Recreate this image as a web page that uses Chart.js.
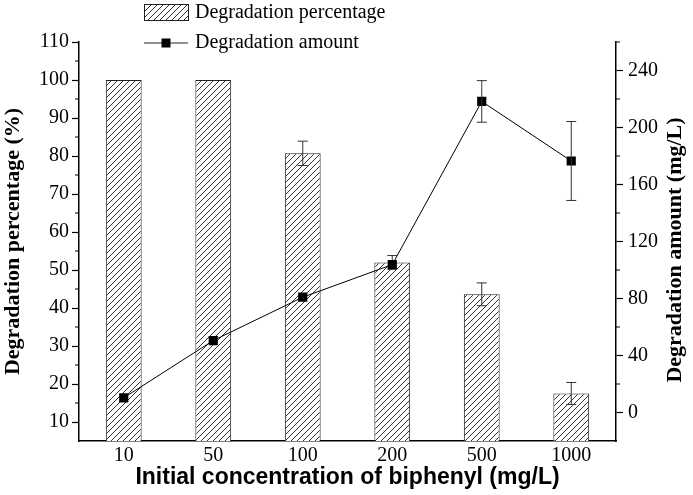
<!DOCTYPE html>
<html>
<head>
<meta charset="utf-8">
<script src="https://cdn.jsdelivr.net/npm/chart.js@4.4.1/dist/chart.umd.min.js"></script>
<style>
    html, body { margin: 0; padding: 0; background: #fff; }
    #wrap { width: 693px; height: 495px; }
</style>
</head>
<body>
<div id="wrap"><canvas id="chart"></canvas></div>
<script>
// data
const concentrations = ['10', '50', '100', '200', '500', '1000'];
const degradationPercentage = [100, 100, 80.7, 52.0, 43.6, 17.5];
const percentageError = [0, 0, 3.2, 1.8, 3.0, 2.9];
const degradationAmount = [10.3, 50.5, 80.9, 103.8, 218.3, 176.5];
const amountError = [0, 0, 0, 0, 14.6, 27.7];

// tick labels
const percentTicks = [10, 20, 30, 40, 50, 60, 70, 80, 90, 100, 110];
const percentMinor = [15, 25, 35, 45, 55, 65, 75, 85, 95, 105];
const amountTicks = [0, 40, 80, 120, 160, 200, 240];
const amountMinor = [20, 60, 100, 140, 180, 220, 260];

const serif = '"Liberation Serif", "Times New Roman", serif';
const sans = '"Liberation Sans", Arial, sans-serif';

// hatch pattern for the bars
function makeHatch() {
    const c = document.createElement('canvas');
    c.width = 6;
    c.height = 6;
    const g = c.getContext('2d');
    g.fillStyle = '#fff';
    g.fillRect(0, 0, 6, 6);
    g.strokeStyle = '#333';
    g.lineWidth = 1;
    g.beginPath();
    g.moveTo(0, 6); g.lineTo(6, 0);
    g.moveTo(-1, 1); g.lineTo(1, -1);
    g.moveTo(5, 7); g.lineTo(7, 5);
    g.stroke();
    return g.createPattern(c, 'repeat');
}
const hatch = makeHatch();

// error bars, drawn right after each dataset
const errorBars = {
    id: 'errorBars',
    afterDatasetDraw(chart, args) {
        const ds = chart.data.datasets[args.index];
        if (!ds.errors) return;
        const ctx = chart.ctx;
        const scale = chart.scales[ds.yAxisID];
        ctx.save();
        ctx.strokeStyle = '#333';
        ctx.lineWidth = 1;
        args.meta.data.forEach((el, i) => {
            const err = ds.errors[i];
            if (!err) return;
            const v = ds.data[i];
            const top = scale.getPixelForValue(v + err);
            const bot = scale.getPixelForValue(v - err);
            ctx.beginPath();
            ctx.moveTo(el.x, top); ctx.lineTo(el.x, bot);
            ctx.moveTo(el.x - 5, top); ctx.lineTo(el.x + 5, top);
            ctx.moveTo(el.x - 5, bot); ctx.lineTo(el.x + 5, bot);
            ctx.stroke();
        });
        ctx.restore();
    }
};

// short minor ticks on both y axes, plus the right axis title (reads bottom to top)
const axisExtras = {
    id: 'axisExtras',
    afterDraw(chart) {
        const ctx = chart.ctx;
        const area = chart.chartArea;
        ctx.save();
        ctx.strokeStyle = '#000';
        ctx.lineWidth = 1.2;
        ctx.beginPath();
        percentMinor.forEach(v => {
            const y = chart.scales.y.getPixelForValue(v);
            ctx.moveTo(area.left - 4, y); ctx.lineTo(area.left, y);
        });
        amountMinor.forEach(v => {
            const y = chart.scales.y1.getPixelForValue(v);
            ctx.moveTo(area.right, y); ctx.lineTo(area.right + 4, y);
        });
        ctx.stroke();

        ctx.translate(675, 250);
        ctx.rotate(-Math.PI / 2);
        ctx.font = 'bold 22px ' + serif;
        ctx.fillStyle = '#000';
        ctx.textAlign = 'center';
        ctx.textBaseline = 'middle';
        ctx.fillText('Degradation amount (mg/L)', 0, 0);
        ctx.restore();
    }
};

// two-row legend above the plot
const stackedLegend = {
    id: 'stackedLegend',
    afterDraw(chart) {
        const ctx = chart.ctx;
        ctx.save();
        ctx.font = '20px ' + serif;
        ctx.textBaseline = 'middle';

        ctx.fillStyle = hatch;
        ctx.fillRect(144, 4, 44, 16);
        ctx.strokeStyle = '#222';
        ctx.lineWidth = 1;
        ctx.strokeRect(144.5, 4.5, 44, 16);
        ctx.fillStyle = '#000';
        ctx.fillText(chart.data.datasets[0].label, 195, 13);

        ctx.beginPath();
        ctx.moveTo(144, 43); ctx.lineTo(188, 43);
        ctx.stroke();
        ctx.fillRect(161.5, 38.5, 9, 9);
        ctx.fillText(chart.data.datasets[1].label, 195, 43);
        ctx.restore();
    }
};

const ctx = document.getElementById('chart').getContext('2d');
const myChart = new Chart(ctx, {
    data: {
        labels: concentrations,
        datasets: [
            {
                type: 'bar',
                label: 'Degradation percentage',
                data: degradationPercentage,
                errors: percentageError,
                yAxisID: 'y',
                backgroundColor: hatch,
                borderColor: '#222',
                borderWidth: 1,
                barPercentage: 0.4,
                categoryPercentage: 1,
                order: 2
            },
            {
                type: 'line',
                label: 'Degradation amount',
                data: degradationAmount,
                errors: amountError,
                yAxisID: 'y1',
                borderColor: '#000',
                borderWidth: 1,
                pointStyle: 'rect',
                pointRadius: 6.5,
                pointBackgroundColor: '#000',
                pointBorderWidth: 0,
                tension: 0,
                order: 1
            }
        ]
    },
    options: {
        responsive: true,
        maintainAspectRatio: false,
        animation: false,
        layout: { padding: { top: 42, left: 0, right: 0, bottom: 0 } },
        plugins: {
            legend: { display: false },
            tooltip: { enabled: false }
        },
        scales: {
            x: {
                offset: true,
                afterFit: s => { s.height = 54; },
                grid: { display: false, tickLength: 0 },
                border: { color: '#000', width: 1.5 },
                ticks: { color: '#000', padding: 3, font: { family: serif, size: 20 } },
                title: {
                    display: true,
                    text: 'Initial concentration of biphenyl (mg/L)',
                    color: '#000',
                    padding: { top: 0, bottom: 4 },
                    font: { family: sans, size: 23, weight: 'bold' }
                }
            },
            y: {
                position: 'left',
                min: 5,
                max: 110,
                afterFit: s => { s.width = 79; },
                afterBuildTicks: s => { s.ticks = percentTicks.map(v => ({ value: v })); },
                grid: { drawOnChartArea: false, tickLength: 7, color: '#000', tickWidth: 1.2 },
                border: { color: '#000', width: 1.5 },
                ticks: { color: '#000', padding: 3, font: { family: serif, size: 20 } },
                title: {
                    display: true,
                    text: 'Degradation percentage (%)',
                    color: '#000',
                    padding: { top: 0, bottom: 0 },
                    font: { family: serif, size: 22, weight: 'bold' }
                }
            },
            y1: {
                position: 'right',
                min: -20,
                max: 260,
                afterFit: s => { s.width = 77; },
                afterBuildTicks: s => { s.ticks = amountTicks.map(v => ({ value: v })); },
                grid: { drawOnChartArea: false, tickLength: 7, color: '#000', tickWidth: 1.2 },
                border: { color: '#000', width: 1.5 },
                ticks: { color: '#000', padding: 5, font: { family: serif, size: 20 } }
            }
        }
    },
    plugins: [errorBars, axisExtras, stackedLegend]
});
</script>
</body>
</html>
